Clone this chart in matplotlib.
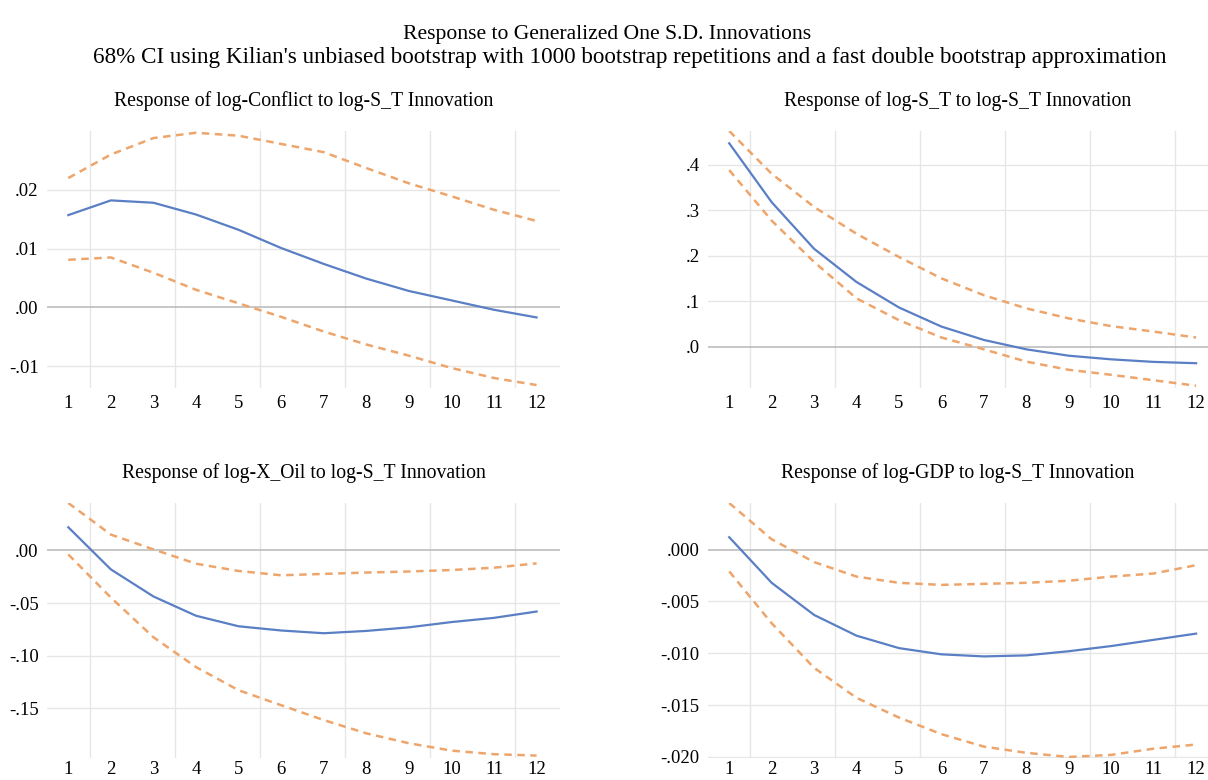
import numpy as np
import matplotlib.pyplot as plt

# horizons
periods = list(range(1, 13))

# Response of log-Conflict to log-S_T
conflict_irf = [0.0157, 0.0182, 0.0178, 0.0158, 0.0132, 0.0101, 0.0074, 0.0049, 0.0028, 0.0012, -0.0004, -0.0017]
conflict_hi = [0.0220, 0.0260, 0.0288, 0.0297, 0.0292, 0.0278, 0.0264, 0.0237, 0.0211, 0.0189, 0.0166, 0.0147]
conflict_lo = [0.0081, 0.0085, 0.0059, 0.0030, 0.0007, -0.0016, -0.0041, -0.0063, -0.0082, -0.0103, -0.0120, -0.0132]

# Response of log-S_T to log-S_T
st_irf = [0.447, 0.3175, 0.215, 0.142, 0.086, 0.044, 0.0146, -0.006, -0.020, -0.028, -0.0336, -0.0365]
st_hi = [0.474, 0.380, 0.307, 0.248, 0.197, 0.150, 0.113, 0.084, 0.062, 0.045, 0.033, 0.020]
st_lo = [0.388, 0.277, 0.186, 0.106, 0.058, 0.020, -0.006, -0.033, -0.051, -0.062, -0.074, -0.086]

# Response of log-X_Oil to log-S_T
oil_irf = [0.022, -0.018, -0.0437, -0.062, -0.072, -0.076, -0.0786, -0.0764, -0.073, -0.068, -0.064, -0.058]
oil_hi = [0.045, 0.015, 0.001, -0.0126, -0.0195, -0.0236, -0.0223, -0.021, -0.020, -0.0186, -0.0164, -0.0123]
oil_lo = [-0.0038, -0.0447, -0.0824, -0.1107, -0.1327, -0.1469, -0.161, -0.1736, -0.183, -0.190, -0.1934, -0.1947]

# Response of log-GDP to log-S_T
gdp_irf = [0.0012, -0.0032, -0.0063, -0.0083, -0.0095, -0.0101, -0.0103, -0.0102, -0.0098, -0.0093, -0.0087, -0.0081]
gdp_hi = [0.0045, 0.0010, -0.0012, -0.0026, -0.0032, -0.0034, -0.0033, -0.0032, -0.0030, -0.0026, -0.0023, -0.0015]
gdp_lo = [-0.0021, -0.0071, -0.0114, -0.0143, -0.0162, -0.0178, -0.0190, -0.0196, -0.0200, -0.0198, -0.0192, -0.0188]

plt.rcParams['font.family'] = ['Liberation Serif', 'DejaVu Serif']

BLUE = '#5a7fc4'
ORANGE = '#eda56c'
GRID = '#e6e6e6'


def draw_panel(ax, title, irf, hi, lo, yticks, ylabels, ylim, xmax=12.55, xpad=5):
    # EViews style: vertical grid lines between every other tick
    for xv in [1.5, 3.5, 5.5, 7.5, 9.5, 11.5]:
        ax.axvline(xv, color=GRID, lw=1, zorder=0)
    for yv in yticks:
        if yv == 0:
            ax.axhline(0, color='#b8b8b8', lw=1.1, zorder=1)
        else:
            ax.axhline(yv, color=GRID, lw=1, zorder=0)
    ax.plot(periods, hi, color=ORANGE, lw=1.8, ls=(0, (3, 2.2)), zorder=2)
    ax.plot(periods, lo, color=ORANGE, lw=1.8, ls=(0, (3, 2.2)), zorder=2)
    ax.plot(periods, irf, color=BLUE, lw=1.6, zorder=3)
    ax.set_xlim(0.5, xmax)
    ax.set_ylim(*ylim)
    ax.set_xticks(periods)
    ax.set_xticklabels([str(p) for p in periods], fontsize=13.5)
    ax.set_yticks(yticks)
    ax.set_yticklabels(ylabels, fontsize=13.5)
    ax.tick_params(axis='y', length=0, pad=6)
    ax.tick_params(axis='x', length=0, pad=xpad)
    for s in ax.spines.values():
        s.set_visible(False)
    ax.set_title(title, fontsize=14.2, pad=18)


fig = plt.figure(figsize=(12.08, 7.8), dpi=100)

ax1 = fig.add_axes([47 / 1208, 1 - 388 / 780, 513 / 1208, 257 / 780])
draw_panel(ax1, 'Response of log-Conflict to log-S_T Innovation',
           conflict_irf, conflict_hi, conflict_lo,
           [0.02, 0.01, 0.0, -0.01], ['.02', '.01', '.00', '-.01'], (-0.0137, 0.0300))

ax2 = fig.add_axes([708 / 1208, 1 - 388 / 780, 500 / 1208, 257 / 780])
draw_panel(ax2, 'Response of log-S_T to log-S_T Innovation',
           st_irf, st_hi, st_lo,
           [0.4, 0.3, 0.2, 0.1, 0.0], ['.4', '.3', '.2', '.1', '.0'], (-0.091, 0.474), xmax=12.28)

# bottom row sits close to the lower edge, so tick labels get a smaller pad
ax3 = fig.add_axes([47 / 1208, 1 - 758 / 780, 513 / 1208, 255 / 780])
draw_panel(ax3, 'Response of log-X_Oil to log-S_T Innovation',
           oil_irf, oil_hi, oil_lo,
           [0.0, -0.05, -0.10, -0.15], ['.00', '-.05', '-.10', '-.15'], (-0.197, 0.045), xpad=2)

ax4 = fig.add_axes([708 / 1208, 1 - 758 / 780, 500 / 1208, 255 / 780])
draw_panel(ax4, 'Response of log-GDP to log-S_T Innovation',
           gdp_irf, gdp_hi, gdp_lo,
           [0.0, -0.005, -0.010, -0.015, -0.020], ['.000', '-.005', '-.010', '-.015', '-.020'],
           (-0.0201, 0.0045), xmax=12.28, xpad=2)

fig.text(607 / 1208, 1 - 35 / 780, 'Response to Generalized One S.D. Innovations',
         ha='center', va='center', fontsize=15.6)
fig.text(630 / 1208, 1 - 58 / 780,
         "68% CI using Kilian's unbiased bootstrap with 1000 bootstrap repetitions and a fast double bootstrap approximation",
         ha='center', va='center', fontsize=16.7)

fig.savefig('out.png', dpi=100)
